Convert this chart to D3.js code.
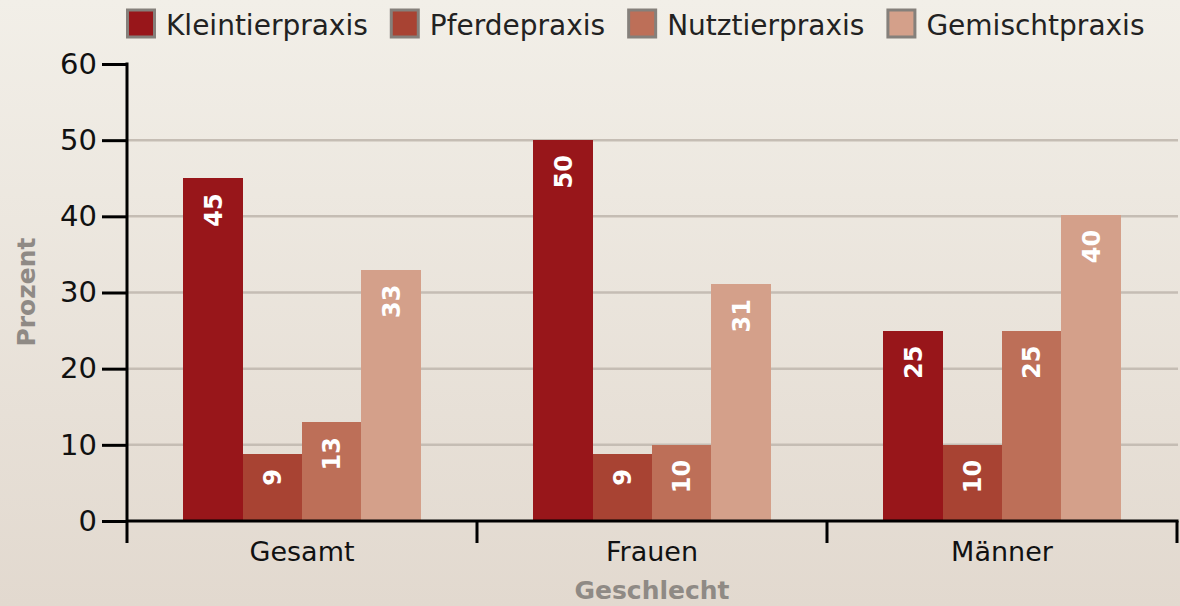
<!DOCTYPE html>
<html>
<head>
<meta charset="utf-8">
<script src="https://cdn.jsdelivr.net/npm/d3@7"></script>
<style>
  html, body { margin: 0; padding: 0; }
  body { width: 1180px; height: 606px; overflow: hidden; }
  svg { display: block; font-family: "DejaVu Sans", Verdana, sans-serif; }
</style>
</head>
<body>
<svg id="chart" width="1180" height="606"></svg>
<script>
const categories = ["Gesamt", "Frauen", "Männer"];
const seriesNames = ["Kleintierpraxis", "Pferdepraxis", "Nutztierpraxis", "Gemischtpraxis"];
const kleintier = [45, 50, 25];
const pferde = [8.8, 8.8, 10];
const nutztier = [13, 10, 25];
const gemischt = [33, 31.1, 40.2];
const yTicks = [0, 10, 20, 30, 40, 50, 60];
const colors = ["#98161a", "#a84333", "#bd6f58", "#d4a08a"];

const seriesValues = [kleintier, pferde, nutztier, gemischt];
const data = categories.map((c, i) => ({
  cat: c,
  vals: seriesNames.map((s, j) => ({ s, v: seriesValues[j][i] }))
}));

const svg = d3.select("#chart");
const W = 1180, H = 606;

// background gradient
const defs = svg.append("defs");
const grad = defs.append("linearGradient").attr("id", "bg")
  .attr("x1", 0).attr("y1", 0).attr("x2", 0).attr("y2", 1);
grad.append("stop").attr("offset", "0%").attr("stop-color", "#f2efe8");
grad.append("stop").attr("offset", "100%").attr("stop-color", "#e2d9cf");
svg.append("rect").attr("width", W).attr("height", H).attr("fill", "url(#bg)");

const plotL = 127, plotR = 1177, yTop = 64, yBot = 521;

const y = d3.scaleLinear().domain([0, 60]).range([yBot, yTop]);
const x0 = d3.scaleBand().domain(categories).range([plotL, plotR]).paddingInner(0).paddingOuter(0);
const x1 = d3.scaleBand().domain(seriesNames).range([0, x0.bandwidth()]).paddingInner(0).paddingOuter(0.95);
const color = d3.scaleOrdinal().domain(seriesNames).range(colors);

// gridlines
svg.append("g").selectAll("line")
  .data(yTicks.filter(t => t > 0 && t < 60))
  .join("line")
  .attr("x1", plotL).attr("x2", plotR + 1)
  .attr("y1", d => y(d)).attr("y2", d => y(d))
  .attr("stroke", "#c5bdb4").attr("stroke-width", 2.5);

// bars
const groups = svg.append("g").selectAll("g")
  .data(data).join("g")
  .attr("transform", d => `translate(${x0(d.cat)},0)`);

groups.selectAll("rect")
  .data(d => d.vals).join("rect")
  .attr("x", d => x1(d.s))
  .attr("width", x1.bandwidth())
  .attr("y", d => y(d.v))
  .attr("height", d => y(0) - y(d.v))
  .attr("fill", d => color(d.s))
  .attr("shape-rendering", "crispEdges");

const fmt = d3.format(".0f");
groups.selectAll("text")
  .data(d => d.vals).join("text")
  .attr("transform", d => `translate(${x1(d.s) + x1.bandwidth() / 2},${y(d.v) + 15}) rotate(-90)`)
  .attr("text-anchor", "end")
  .attr("dy", "0.36em")
  .attr("fill", "#ffffff")
  .attr("font-weight", "bold")
  .attr("font-size", 24)
  .text(d => fmt(d.v));

// y axis
const yAxis = d3.axisLeft(y).tickValues(yTicks).tickSize(25).tickPadding(5).tickFormat(d3.format("d"));
const gy = svg.append("g").attr("transform", `translate(${plotL},0)`).call(yAxis);
gy.select(".domain").remove();
gy.selectAll(".tick line").attr("stroke", "#000").attr("stroke-width", 3);
gy.selectAll(".tick text").attr("font-size", 29).attr("fill", "#111")
  .attr("font-family", "DejaVu Sans, sans-serif");
svg.append("line").attr("x1", plotL).attr("x2", plotL)
  .attr("y1", yTop - 1.5).attr("y2", 543)
  .attr("stroke", "#000").attr("stroke-width", 3);

// x axis
const xAxis = d3.axisBottom(x0).tickSize(0).tickPadding(21);
const gx = svg.append("g").attr("transform", `translate(0,${yBot})`).call(xAxis);
gx.select(".domain").remove();
gx.selectAll(".tick text").attr("font-size", 27).attr("fill", "#111")
  .attr("font-family", "DejaVu Sans, sans-serif");
svg.append("line").attr("x1", plotL).attr("x2", plotR + 1.5)
  .attr("y1", yBot).attr("y2", yBot)
  .attr("stroke", "#000").attr("stroke-width", 3);
const bounds = categories.map(c => x0(c)).concat([x0(categories[categories.length - 1]) + x0.bandwidth()]);
svg.append("g").selectAll("line").data(bounds.slice(1)).join("line")
  .attr("x1", d => d).attr("x2", d => d)
  .attr("y1", yBot).attr("y2", 543)
  .attr("stroke", "#000").attr("stroke-width", 3);

// axis titles
svg.append("text")
  .attr("transform", `translate(35,292) rotate(-90)`)
  .attr("text-anchor", "middle")
  .attr("font-size", 25).attr("font-weight", "bold").attr("fill", "#8f8a85")
  .text("Prozent");
svg.append("text")
  .attr("x", (plotL + plotR) / 2).attr("y", 599)
  .attr("text-anchor", "middle")
  .attr("font-size", 25).attr("font-weight", "bold").attr("fill", "#8f8a85")
  .text("Geschlecht");

// legend
const leg = svg.append("g");
let lx = 126;
seriesNames.forEach((s, i) => {
  const g = leg.append("g").attr("transform", `translate(${lx},0)`);
  g.append("rect").attr("x", 1.5).attr("y", 10).attr("width", 27).attr("height", 27)
    .attr("fill", color(s)).attr("stroke", "#85807b").attr("stroke-width", 3);
  const t = g.append("text").attr("x", 40).attr("y", 35)
    .attr("font-size", 28).attr("fill", "#222").text(s);
  const w = t.node().getComputedTextLength();
  lx += 40 + w + 22;
});
</script>
</body>
</html>
